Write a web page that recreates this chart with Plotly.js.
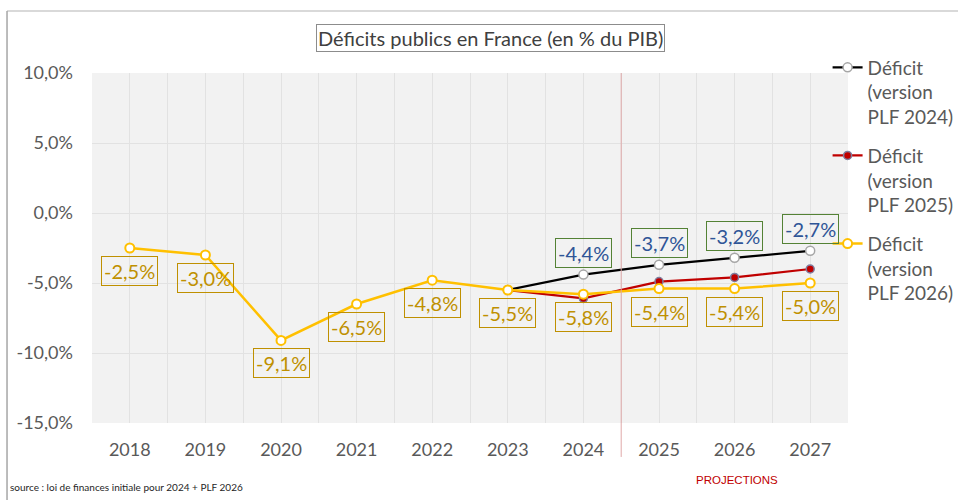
<!DOCTYPE html>
<html>
<head>
<meta charset="utf-8">
<script src="https://cdn.plot.ly/plotly-3.0.1.min.js"></script>
<style>html,body{margin:0;padding:0;background:#fff;}#chart{width:958px;height:500px;}</style>
</head>
<body>
<div id="chart"></div>
<script>
// ---- Data ----
const years = [2018, 2019, 2020, 2021, 2022, 2023, 2024, 2025, 2026, 2027];
const yearLabels = ['2018','2019','2020','2021','2022','2023','2024','2025','2026','2027'];

const plf2024Years = [2023, 2024, 2025, 2026, 2027];
const plf2024Values = [-5.5, -4.4, -3.7, -3.2, -2.7];

const plf2025Years = [2023, 2024, 2025, 2026, 2027];
const plf2025Values = [-5.5, -6.1, -4.9, -4.6, -4.0];

const plf2026Years = years;
const plf2026Values = [-2.5, -3.0, -9.1, -6.5, -4.8, -5.5, -5.8, -5.4, -5.4, -5.0];

const labelledPlf2024Years = [2024, 2025, 2026, 2027];

const seriesNames = ['Déficit<br>(version<br>PLF 2024)', 'Déficit<br>(version<br>PLF 2025)', 'Déficit<br>(version<br>PLF 2026)'];
const yTicks = [-15, -10, -5, 0, 5, 10];

// ---- Styles ----
const FONT = 'Lato, "Open Sans", "Noto Sans", sans-serif';
const fmt = v => v.toFixed(1).replace('.', ',') + '%';

const traces = [
  {
    x: plf2024Years, y: plf2024Values, name: seriesNames[0], legendgroup: 'a',
    type: 'scatter', mode: 'lines+markers',
    line: {color: '#000000', width: 2.25},
    marker: {symbol: 'circle', size: 9, color: '#ffffff', line: {color: '#a6a6a6', width: 1.5}},
    hoverinfo: 'skip'
  },
  {
    x: plf2025Years, y: plf2025Values, name: seriesNames[1], legendgroup: 'b',
    type: 'scatter', mode: 'lines+markers',
    line: {color: '#C00000', width: 2.25},
    marker: {symbol: 'circle', size: 8, color: '#C00000', line: {color: '#7f7fa0', width: 1.5}},
    hoverinfo: 'skip'
  },
  {
    x: plf2026Years, y: plf2026Values, name: seriesNames[2], legendgroup: 'c',
    type: 'scatter', mode: 'lines+markers',
    line: {color: '#FFC000', width: 2.5},
    marker: {symbol: 'circle', size: 9, color: '#ffffff', line: {color: '#FFC000', width: 2}},
    hoverinfo: 'skip'
  }
];

const annotations = [];
plf2026Years.forEach((yr, i) => {
  annotations.push({
    x: yr, y: plf2026Values[i], xref: 'x', yref: 'y',
    text: fmt(plf2026Values[i]), showarrow: false, yshift: -23,
    font: {family: FONT, size: 20, color: '#BF9000'},
    bordercolor: '#BF9000', borderwidth: 1, borderpad: 2
  });
});
labelledPlf2024Years.forEach(yr => {
  const i = plf2024Years.indexOf(yr);
  annotations.push({
    x: yr, y: plf2024Values[i], xref: 'x', yref: 'y',
    text: fmt(plf2024Values[i]), showarrow: false, yshift: 22,
    font: {family: FONT, size: 20, color: '#2F5597'},
    bordercolor: '#548235', borderwidth: 1, borderpad: 2
  });
});
// title box
annotations.push({
  x: 0.5265, y: 1.1, xref: 'paper', yref: 'paper', xanchor: 'center', yanchor: 'middle',
  text: 'Déficits publics en France (en % du PIB)', showarrow: false,
  font: {family: FONT, size: 20, color: '#404040'},
  bordercolor: '#8c8c8c', borderwidth: 1, borderpad: 1
});
// source
annotations.push({
  x: -0.111, y: -0.183, xref: 'paper', yref: 'paper', xanchor: 'left', yanchor: 'middle',
  text: 'source : loi de finances initiale pour 2024 + PLF 2026', showarrow: false,
  font: {family: '"Liberation Sans Narrow", Lato, sans-serif', size: 10, color: '#262626'}
});
// projections
annotations.push({
  x: 0.853, y: -0.163, xref: 'paper', yref: 'paper', xanchor: 'center', yanchor: 'middle',
  text: 'PROJECTIONS', showarrow: false,
  font: {family: '"Liberation Sans Narrow", "Liberation Sans", sans-serif', size: 11.5, color: '#C00000'}
});

const layout = {
  width: 958, height: 500,
  margin: {l: 92, r: 110, t: 73, b: 77, autoexpand: false},
  paper_bgcolor: '#ffffff', plot_bgcolor: '#F2F2F2',
  showlegend: true,
  legend: {
    x: 0.973, xanchor: 'left', y: 1.07, yanchor: 'top', valign: 'top',
    font: {family: FONT, size: 19, color: '#595959'},
    bgcolor: 'rgba(0,0,0,0)', tracegroupgap: 11, itemwidth: 30,
    maxheight: 460
  },
  xaxis: {
    type: 'linear', range: [2017.5, 2027.5],
    tickmode: 'array', tickvals: years, ticktext: yearLabels,
    showgrid: true, gridcolor: '#E2E2E2', gridwidth: 1,
    minor: {tickmode: 'linear', tick0: 2017.5, dtick: 1, showgrid: true, gridcolor: '#E2E2E2', gridwidth: 1},
    zeroline: false, showline: false, ticks: '',
    ticklabelstandoff: 14,
    tickfont: {family: FONT, size: 18, color: '#595959'},
    fixedrange: true
  },
  yaxis: {
    range: [-15, 10], tickmode: 'array', tickvals: yTicks,
    ticktext: yTicks.map(fmt),
    showgrid: true, gridcolor: '#E2E2E2', gridwidth: 1,
    zeroline: false, showline: false, ticks: '',
    ticklabelstandoff: 18,
    tickfont: {family: FONT, size: 18, color: '#595959'},
    fixedrange: true
  },
  annotations: annotations,
  shapes: [
    {type: 'line', xref: 'x', yref: 'paper', x0: 2024.5, x1: 2024.5, y0: 1, y1: -0.097,
     line: {color: '#E0A8A8', width: 1}},
    {type: 'line', xref: 'paper', yref: 'paper', x0: -0.1124, x1: 1.1455, y0: 1.177, y1: 1.177,
     line: {color: '#d9d9d9', width: 2}},
    {type: 'line', xref: 'paper', yref: 'paper', x0: -0.1124, x1: -0.1124, y0: 1.177, y1: -0.23,
     line: {color: '#a6a6a6', width: 1.5}}
  ]
};

Plotly.newPlot('chart', traces, layout, {displayModeBar: false, staticPlot: true});
</script>
</body>
</html>
